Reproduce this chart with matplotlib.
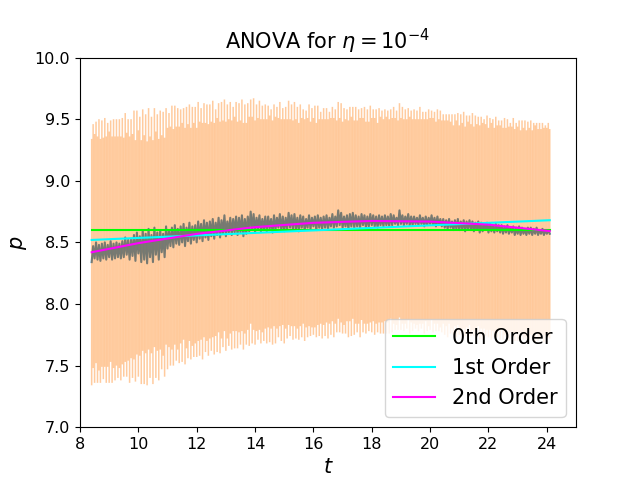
import numpy as np
import matplotlib
matplotlib.use("Agg")
import matplotlib.pyplot as plt

# Measured p values, sampled every 0.05 in t starting at t = 8.40 (rows of 1.0 in t)
p_rows = [
    [8.34, 8.47, 8.37, 8.50, 8.36, 8.48, 8.35, 8.49, 8.37, 8.50, 8.36, 8.48, 8.38, 8.51, 8.36, 8.49, 8.37, 8.50, 8.38, 8.49],
    [8.37, 8.51, 8.38, 8.54, 8.40, 8.52, 8.36, 8.53, 8.39, 8.56, 8.35, 8.58, 8.41, 8.55, 8.34, 8.60, 8.36, 8.57, 8.33, 8.61],
    [8.38, 8.56, 8.34, 8.62, 8.40, 8.58, 8.36, 8.60, 8.42, 8.57, 8.38, 8.63, 8.45, 8.60, 8.47, 8.62, 8.46, 8.64, 8.49, 8.61],
    [8.48, 8.63, 8.50, 8.65, 8.47, 8.62, 8.51, 8.66, 8.49, 8.63, 8.52, 8.64, 8.50, 8.67, 8.53, 8.65, 8.51, 8.68, 8.54, 8.66],
    [8.52, 8.67, 8.55, 8.69, 8.53, 8.66, 8.56, 8.70, 8.54, 8.68, 8.57, 8.72, 8.55, 8.67, 8.58, 8.70, 8.56, 8.69, 8.58, 8.71],
    [8.56, 8.70, 8.58, 8.72, 8.55, 8.69, 8.57, 8.71, 8.59, 8.75, 8.60, 8.73, 8.58, 8.70, 8.61, 8.72, 8.59, 8.69, 8.60, 8.71],
    [8.59, 8.71, 8.61, 8.69, 8.58, 8.72, 8.60, 8.70, 8.62, 8.73, 8.60, 8.71, 8.59, 8.70, 8.61, 8.74, 8.62, 8.72, 8.60, 8.73],
    [8.61, 8.70, 8.59, 8.72, 8.62, 8.71, 8.60, 8.69, 8.62, 8.72, 8.61, 8.70, 8.63, 8.71, 8.60, 8.72, 8.62, 8.70, 8.61, 8.71],
    [8.62, 8.72, 8.61, 8.70, 8.63, 8.73, 8.62, 8.71, 8.63, 8.76, 8.64, 8.74, 8.62, 8.71, 8.63, 8.72, 8.61, 8.73, 8.63, 8.74],
    [8.62, 8.72, 8.63, 8.71, 8.62, 8.73, 8.64, 8.72, 8.62, 8.71, 8.63, 8.73, 8.64, 8.72, 8.63, 8.71, 8.62, 8.72, 8.64, 8.71],
    [8.63, 8.72, 8.64, 8.71, 8.63, 8.73, 8.64, 8.72, 8.65, 8.70, 8.64, 8.76, 8.65, 8.72, 8.64, 8.71, 8.65, 8.73, 8.64, 8.71],
    [8.64, 8.71, 8.65, 8.70, 8.64, 8.72, 8.65, 8.70, 8.63, 8.71, 8.64, 8.70, 8.65, 8.72, 8.64, 8.70, 8.63, 8.71, 8.64, 8.69],
    [8.63, 8.69, 8.62, 8.68, 8.61, 8.69, 8.62, 8.67, 8.60, 8.68, 8.61, 8.69, 8.60, 8.67, 8.61, 8.68, 8.59, 8.67, 8.61, 8.68],
    [8.60, 8.67, 8.59, 8.66, 8.60, 8.67, 8.58, 8.66, 8.59, 8.65, 8.60, 8.66, 8.58, 8.65, 8.59, 8.64, 8.58, 8.65, 8.59, 8.64],
    [8.58, 8.64, 8.57, 8.63, 8.58, 8.64, 8.57, 8.62, 8.58, 8.63, 8.56, 8.62, 8.57, 8.63, 8.56, 8.62, 8.57, 8.61, 8.56, 8.62],
    [8.57, 8.62, 8.56, 8.61, 8.57, 8.62, 8.56, 8.60, 8.57, 8.61, 8.56, 8.60, 8.57, 8.60, 8.57],
]

# Error bar half-widths, same sampling
err_rows = [
    [1.00, 0.99, 1.01, 0.98, 1.00, 1.02, 0.99, 1.00, 0.98, 1.01, 1.00, 0.99, 1.02, 0.98, 1.00, 1.01, 0.99, 1.00, 0.98, 1.01],
    [0.99, 1.00, 0.97, 1.01, 0.99, 0.98, 1.00, 0.97, 0.99, 1.01, 0.98, 0.99, 1.00, 0.97, 0.99, 0.98, 1.01, 0.97, 0.99, 0.98],
    [0.98, 0.96, 0.99, 0.97, 1.00, 0.96, 0.98, 0.97, 0.95, 0.99, 0.97, 0.96, 0.98, 0.95, 0.97, 0.99, 0.96, 0.97, 0.95, 0.98],
    [0.96, 0.95, 0.97, 0.94, 0.96, 0.98, 0.95, 0.96, 0.94, 0.97, 0.95, 0.96, 0.93, 0.97, 0.95, 0.94, 0.96, 0.95, 0.93, 0.96],
    [0.94, 0.95, 0.93, 0.96, 0.94, 0.92, 0.95, 0.93, 0.94, 0.96, 0.92, 0.94, 0.93, 0.95, 0.92, 0.94, 0.93, 0.91, 0.94, 0.93],
    [0.92, 0.93, 0.91, 0.94, 0.92, 0.93, 0.90, 0.92, 0.93, 0.91, 0.92, 0.94, 0.91, 0.92, 0.90, 0.93, 0.91, 0.92, 0.90, 0.91],
    [0.91, 0.90, 0.92, 0.89, 0.91, 0.90, 0.92, 0.90, 0.89, 0.91, 0.90, 0.88, 0.91, 0.90, 0.89, 0.91, 0.88, 0.90, 0.89, 0.91],
    [0.89, 0.90, 0.88, 0.90, 0.89, 0.87, 0.90, 0.88, 0.89, 0.90, 0.87, 0.89, 0.88, 0.90, 0.87, 0.89, 0.88, 0.86, 0.89, 0.88],
    [0.88, 0.87, 0.89, 0.86, 0.88, 0.87, 0.89, 0.87, 0.86, 0.88, 0.87, 0.89, 0.86, 0.88, 0.87, 0.86, 0.88, 0.87, 0.89, 0.86],
    [0.87, 0.88, 0.86, 0.87, 0.89, 0.86, 0.87, 0.88, 0.86, 0.87, 0.85, 0.88, 0.87, 0.86, 0.88, 0.87, 0.85, 0.87, 0.88, 0.86],
    [0.87, 0.86, 0.88, 0.86, 0.87, 0.85, 0.87, 0.88, 0.86, 0.87, 0.85, 0.87, 0.86, 0.88, 0.86, 0.87, 0.85, 0.86, 0.88, 0.86],
    [0.86, 0.87, 0.85, 0.87, 0.86, 0.88, 0.85, 0.86, 0.87, 0.85, 0.86, 0.88, 0.86, 0.85, 0.87, 0.86, 0.85, 0.87, 0.86, 0.88],
    [0.86, 0.85, 0.87, 0.86, 0.88, 0.85, 0.86, 0.87, 0.85, 0.86, 0.88, 0.86, 0.85, 0.87, 0.86, 0.88, 0.85, 0.86, 0.87, 0.85],
    [0.86, 0.88, 0.85, 0.87, 0.86, 0.85, 0.87, 0.86, 0.88, 0.85, 0.86, 0.87, 0.85, 0.86, 0.88, 0.86, 0.85, 0.87, 0.86, 0.85],
    [0.87, 0.85, 0.86, 0.88, 0.85, 0.86, 0.87, 0.85, 0.86, 0.88, 0.86, 0.85, 0.87, 0.86, 0.85, 0.87, 0.86, 0.88, 0.85, 0.86],
    [0.86, 0.87, 0.85, 0.86, 0.88, 0.85, 0.86, 0.87, 0.85, 0.86, 0.87, 0.85, 0.86, 0.87, 0.85],
]

t_start = 8.40
t_step = 0.05

# Fit curves
fit0_t = [8.40, 24.10]
fit0_p = [8.60, 8.60]
fit1_t = [8.40, 24.10]
fit1_p = [8.52, 8.68]
fit2_t = [8.40, 10.0, 12.0, 14.0, 16.0, 18.0, 20.0, 22.0, 24.10]
fit2_p = [8.420, 8.494, 8.569, 8.624, 8.659, 8.674, 8.669, 8.644, 8.592]

legend_labels = ["0th Order", "1st Order", "2nd Order"]
x_ticks = [8, 10, 12, 14, 16, 18, 20, 22, 24]
y_ticks = [7.0, 7.5, 8.0, 8.5, 9.0, 9.5, 10.0]

p = np.concatenate([np.array(r, dtype=float) for r in p_rows])
err = np.concatenate([np.array(r, dtype=float) for r in err_rows])
n = min(len(p), len(err))
p = p[:n]
err = err[:n]
t = t_start + t_step * np.arange(n)

fig, ax = plt.subplots(figsize=(6.4, 4.8), dpi=100)
ax.plot(t, p, color="C0", lw=1.5, zorder=2)
eb = ax.errorbar(t, p, yerr=err, fmt="none", ecolor="C1", alpha=0.4,
                 elinewidth=1.1, zorder=2)
for coll in eb[2]:
    coll.set_snap(False)
ax.plot(fit0_t, fit0_p, color="lime", lw=1.5, label=legend_labels[0], zorder=3)
ax.plot(fit1_t, fit1_p, color="cyan", lw=1.5, label=legend_labels[1], zorder=3)
ax.plot(fit2_t, fit2_p, color="magenta", lw=1.5, label=legend_labels[2], zorder=3)

ax.set_xlim(8, 25)
ax.set_ylim(7, 10)
ax.set_xticks(x_ticks)
ax.set_yticks(y_ticks)
ax.tick_params(labelsize=11.5)
ax.set_title(r"ANOVA for $\eta=10^{-4}$", fontsize=15)
ax.set_xlabel(r"$t$", fontsize=15)
ax.set_ylabel(r"$p$", fontsize=15)
ax.legend(loc="lower right", fontsize=15)

fig.savefig("out.png", dpi=100)
